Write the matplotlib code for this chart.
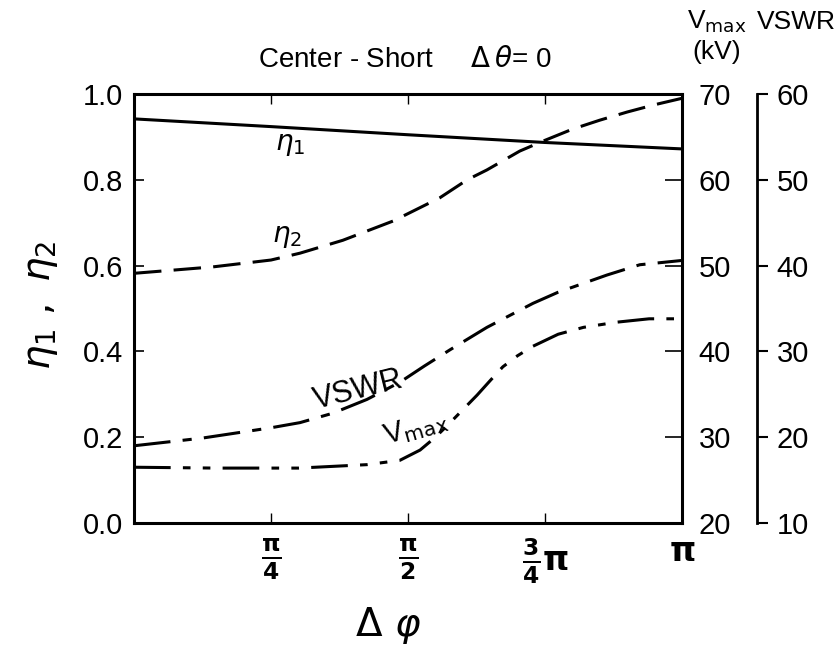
import numpy as np
import matplotlib
matplotlib.use("Agg")
import matplotlib.pyplot as plt

plt.rcParams['font.family'] = ['Liberation Sans', 'DejaVu Sans']
plt.rcParams['mathtext.fontset'] = 'dejavusans'

# x values in units of pi
eta1_x = [0.0, 0.25, 0.5, 0.75, 1.0]
eta1 = [0.942, 0.924, 0.905, 0.887, 0.872]

eta2_x = [0.0, 0.144, 0.25, 0.303, 0.381, 0.473, 0.558, 0.608, 0.644, 0.704, 0.746, 0.80, 0.85, 0.90, 0.95, 1.0]
eta2 = [0.582, 0.597, 0.613, 0.629, 0.659, 0.704, 0.758, 0.800, 0.823, 0.867, 0.890, 0.918, 0.939, 0.958, 0.975, 0.990]

vswr_x = [0.0, 0.125, 0.25, 0.303, 0.363, 0.425, 0.485, 0.53, 0.577, 0.644, 0.728, 0.774, 0.801, 0.863, 0.923, 1.0]
vswr = [19.0, 19.9, 21.1, 21.7, 22.8, 24.4, 26.4, 28.3, 30.2, 32.8, 35.6, 36.9, 37.5, 38.9, 40.1, 40.6]

vmax_x = [0.0, 0.15, 0.30, 0.425, 0.485, 0.522, 0.55, 0.577, 0.60, 0.626, 0.65, 0.673, 0.70, 0.728, 0.774, 0.82, 0.88, 0.94, 1.0]
vmax = [26.5, 26.4, 26.4, 26.8, 27.3, 28.5, 30.0, 31.7, 33.2, 34.9, 36.6, 38.2, 39.5, 40.6, 42.0, 42.8, 43.4, 43.8, 43.8]

xtick_frac = [0.25, 0.5, 0.75, 1.0]
xtick_labels = [r'$\mathbf{\frac{\pi}{4}}$', r'$\mathbf{\frac{\pi}{2}}$', r'$\mathbf{\frac{3}{4}\pi}$', r'$\mathbf{\pi}$']
eta_ticks = [0.0, 0.2, 0.4, 0.6, 0.8, 1.0]
vmax_ticks = [20, 30, 40, 50, 60, 70]
vswr_ticks = [10, 20, 30, 40, 50, 60]

W, H = 834, 659
fig = plt.figure(figsize=(W / 100, H / 100), dpi=100)
L, R, T, B = 134, 682, 94, 523
ax = fig.add_axes([L / W, 1 - B / H, (R - L) / W, (B - T) / H])

def px(v):
    return np.array(v) * np.pi

lw = 2.2
ax.plot(px(eta1_x), eta1, color='black', lw=lw, linestyle='-')
ax.plot(px(eta2_x), eta2, color='black', lw=lw, linestyle=(0, (9, 4)))
ax.set_xlim(0, np.pi)
ax.set_ylim(0, 1.0)
ax.set_yticks(eta_ticks)
ax.set_yticklabels([f'{t:.1f}' for t in eta_ticks])
ax.set_xticks(px(xtick_frac))
ax.set_xticklabels(xtick_labels)
ax.tick_params(axis='y', direction='in', length=7, width=1.2, labelsize=21, pad=8)
ax.tick_params(axis='x', direction='in', length=7, width=1.0, labelsize=24, pad=10,
               top=True)
for s in ax.spines.values():
    s.set_linewidth(2.2)

ax2 = ax.twinx()
ax2.plot(px(vmax_x), vmax, color='black', lw=lw, linestyle=(0, (12, 4, 2.5, 4, 2.5, 4)))
ax2.set_ylim(20, 70)
ax2.set_yticks(vmax_ticks)
ax2.tick_params(axis='y', direction='in', length=12, width=1.2, labelsize=21, pad=12)
for s in ax2.spines.values():
    s.set_visible(False)

ax3 = ax.twinx()
ax3.plot(px(vswr_x), vswr, color='black', lw=lw, linestyle=(0, (12, 4, 3, 4)))
ax3.set_ylim(10, 60)
ax3.set_yticks(vswr_ticks)
for k, s in ax3.spines.items():
    s.set_visible(k == 'right')
ax3.spines['right'].set_position(('axes', (757 - L) / (R - L)))
ax3.spines['right'].set_linewidth(2.0)
ax3.tick_params(axis='y', direction='out', length=8, width=1.5, labelsize=21, pad=6)

def ft(x, y, s, **kw):
    fig.text(x / W, 1 - y / H, s, **kw)

ft(405, 60, r'Center - Short     $\Delta\,\theta$= 0', fontsize=20, ha='center', va='center')
ft(717, 22, r'V$_{\mathrm{max}}$', fontsize=19, ha='center', va='center')
ft(717, 52, '(kV)', fontsize=19, ha='center', va='center')
ft(796, 22, 'VSWR', fontsize=19, ha='center', va='center')
ft(42, 305, r'$\eta_1\ ,\ \eta_2$', fontsize=28, ha='center', va='center', rotation=90)
ft(388, 625, r'$\Delta\ \varphi$', fontsize=28, ha='center', va='center')

ft(290, 145, r'$\eta_1$', fontsize=20, ha='center', va='center')
ft(287, 237, r'$\eta_2$', fontsize=20, ha='center', va='center')
ft(358, 390, 'VSWR', fontsize=22, ha='center', va='center', rotation=14)
ft(415, 428, r'V$_{\mathrm{max}}$', fontsize=21, ha='center', va='center', rotation=16)

fig.savefig('out.png', dpi=100)
